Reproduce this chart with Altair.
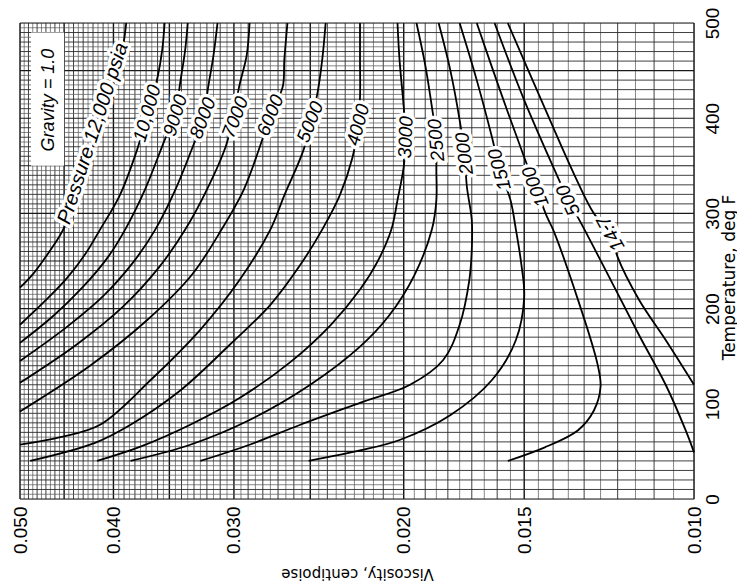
import altair as alt
import numpy as np
import pandas as pd

W, H = 674, 476
FONT = "Liberation Sans"
TFONT = "DejaVu Sans"

# ---------------- curve data: temperature (deg F) and viscosity (cp) ----------------
T_12000 = [500, 482, 461, 424, 377, 330, 283, 267, 252, 236, 222]
V_12000 = [0.0388, 0.0390, 0.0394, 0.0403, 0.0418, 0.0433, 0.0451, 0.0461, 0.0472, 0.0485, 0.0500]
T_10000 = [500, 472, 443, 403, 367, 319, 283, 257, 232, 208, 183]
V_10000 = [0.0354, 0.0356, 0.0360, 0.0369, 0.0378, 0.0394, 0.0413, 0.0428, 0.0447, 0.0471, 0.0500]
T_9000 = [500, 472, 438, 405, 377, 325, 283, 253, 223, 193, 164]
V_9000 = [0.0335, 0.0337, 0.0341, 0.0345, 0.0354, 0.0371, 0.0389, 0.0406, 0.0430, 0.0461, 0.0500]
T_8000 = [500, 466, 433, 398, 370, 325, 283, 248, 213, 180, 145]
V_8000 = [0.0312, 0.0315, 0.0319, 0.0323, 0.0331, 0.0345, 0.0362, 0.0382, 0.0410, 0.0448, 0.0500]
T_7000 = [500, 466, 435, 398, 370, 325, 283, 243, 202, 162, 122]
V_7000 = [0.0289, 0.0291, 0.0296, 0.0301, 0.0306, 0.0320, 0.0337, 0.0359, 0.0391, 0.0437, 0.0500]
T_6000 = [500, 461, 433, 403, 370, 325, 283, 235, 188, 140, 92]
V_6000 = [0.0264, 0.0266, 0.0267, 0.0275, 0.0282, 0.0293, 0.0309, 0.0332, 0.0369, 0.0423, 0.0500]
T_5000 = [500, 461, 424, 396, 367, 319, 283, 230, 178, 125, 78, 65, 57]
V_5000 = [0.0241, 0.0243, 0.0246, 0.0250, 0.0254, 0.0266, 0.0275, 0.0296, 0.0325, 0.0366, 0.0413, 0.0454, 0.0500]
T_4000 = [500, 461, 422, 393, 359, 319, 283, 246, 204, 162, 114, 78, 59, 40]
V_4000 = [0.0222, 0.0222, 0.0222, 0.0223, 0.0226, 0.0233, 0.0243, 0.0256, 0.0275, 0.0303, 0.0341, 0.0384, 0.0418, 0.0488]
T_3000 = [500, 461, 412, 380, 349, 314, 283, 249, 220, 183, 144, 106, 78, 55, 40]
V_3000 = [0.0203, 0.0202, 0.0200, 0.0199, 0.0200, 0.0203, 0.0206, 0.0213, 0.0222, 0.0238, 0.0262, 0.0296, 0.0333, 0.0375, 0.0416]
T_2500 = [500, 456, 412, 377, 346, 314, 283, 235, 193, 160, 120, 83, 57, 40]
V_2500 = [0.0194, 0.0190, 0.0187, 0.0185, 0.0185, 0.0185, 0.0187, 0.0195, 0.0207, 0.0222, 0.0250, 0.0289, 0.0333, 0.0384]
T_2000 = [500, 451, 398, 363, 328, 293, 262, 230, 183, 146, 120, 101, 78, 57, 40]
V_2000 = [0.0184, 0.0179, 0.0175, 0.0173, 0.0172, 0.0170, 0.0170, 0.0171, 0.0175, 0.0182, 0.0197, 0.0222, 0.0256, 0.0289, 0.0325]
T_1500 = [500, 440, 380, 346, 314, 283, 246, 212, 167, 125, 88, 62, 51, 40]
V_1500 = [0.0175, 0.0168, 0.0162, 0.0159, 0.0155, 0.0153, 0.0151, 0.0150, 0.0153, 0.0162, 0.0179, 0.0202, 0.0222, 0.0251]
T_1000 = [500, 430, 359, 328, 296, 283, 220, 143, 118, 93, 72, 54, 40]
V_1000 = [0.0168, 0.0159, 0.0150, 0.0146, 0.0142, 0.0140, 0.0133, 0.0126, 0.0125, 0.0127, 0.0132, 0.0143, 0.0156]
T_500 = [500, 419, 342, 314, 290, 230, 172, 120, 72, 49]
V_500 = [0.0161, 0.0150, 0.0139, 0.0135, 0.0131, 0.0122, 0.0114, 0.0107, 0.0102, 0.0100]
T_14_7 = [500, 419, 340, 300, 279, 254, 209, 167, 120]
V_14_7 = [0.0156, 0.0144, 0.0133, 0.0127, 0.0122, 0.0120, 0.0114, 0.0107, 0.0100]

curves = {
    "12000": (T_12000, V_12000), "10000": (T_10000, V_10000), "9000": (T_9000, V_9000),
    "8000": (T_8000, V_8000), "7000": (T_7000, V_7000), "6000": (T_6000, V_6000),
    "5000": (T_5000, V_5000), "4000": (T_4000, V_4000), "3000": (T_3000, V_3000),
    "2500": (T_2500, V_2500), "2000": (T_2000, V_2000), "1500": (T_1500, V_1500),
    "1000": (T_1000, V_1000), "500": (T_500, V_500), "14.7": (T_14_7, V_14_7),
}

# ---------------- curve labels ----------------
label_text = ["Pressure 12,000 psia", "10,000", "9000", "8000", "7000", "6000", "5000", "4000",
              "3000", "2500", "2000", "1500", "1000", "500", "14.7"]
label_T = [384, 405, 403, 400, 401, 403, 396, 393, 380, 377, 363, 346, 328, 314, 279]
label_v = [0.0420, 0.0369, 0.0345, 0.0323, 0.0299, 0.0275, 0.0250, 0.0223,
           0.0199, 0.0185, 0.0173, 0.0159, 0.0146, 0.0135, 0.0122]
label_angle = [288, 286, 287, 291, 291, 292, 292, 285, 272, 265, 263, 255, 248, 245, 241]
label_size = [20, 19, 19, 19, 19, 19, 19, 19, 19, 19, 19, 19, 19, 19, 19]

# annotation box
note_text = ["Gravity = 1.0"]
note_T = [419]
note_v = [0.0467]
box_v = [0.0487, 0.0450]
box_T = [490, 350]

# axis ticks
visc_ticks = [0.050, 0.040, 0.030, 0.020, 0.015, 0.010]
temp_ticks = [0, 100, 200, 300, 400, 500]

# ---------------- frames ----------------
rows = []
for p, (ts, vs) in curves.items():
    for i, (t, v) in enumerate(zip(ts, vs)):
        rows.append({"p": p, "i": i, "T": t, "v": v})
curve_df = pd.DataFrame(rows)

lab_df = pd.DataFrame({"txt": label_text, "T": label_T, "v": label_v,
                       "ang": label_angle, "fs": label_size})
note_df = pd.DataFrame({"txt": note_text, "T": note_T, "v": note_v, "ang": [270], "fs": [18]})
box_df = pd.DataFrame({"v0": [box_v[0]], "v1": [box_v[1]], "T0": [box_T[0]], "T1": [box_T[1]]})

# grid (graph paper)
kv = np.arange(20, 101)  # viscosity in units of 0.0005 cp
vg = pd.DataFrame({"v": kv * 0.0005, "k": kv})
v_major = vg[vg.k % 10 == 0]
v_mid = vg[(vg.k % 2 == 0) & (vg.k % 10 != 0)]
v_minor = vg[vg.k % 2 == 1]
tg = pd.DataFrame({"T": np.arange(0, 501, 5)})
t_major = tg[tg["T"] % 50 == 0]
t_mid = tg[(tg["T"] % 10 == 0) & (tg["T"] % 50 != 0)]
t_minor = tg[tg["T"] % 10 == 5].assign(v0=0.050, v1=0.020)

xs = alt.Scale(type="log", domain=[0.01, 0.05], reverse=True, nice=False)
ys = alt.Scale(domain=[0, 500], nice=False, zero=False)

xaxis = alt.Axis(values=visc_ticks, format=".3f", labelAngle=270, labelAlign="right",
                 labelBaseline="middle", labelFont=FONT, labelFontSize=19, labelColor="black",
                 labelPadding=7, labelFlush=False, labelOverlap=False, ticks=False, domain=False,
                 grid=False, title="Viscosity, centipoise", titleAngle=180, titleBaseline="bottom",
                 titleFont=TFONT, titleFontSize=15, titleFontWeight="normal", titleColor="black",
                 titlePadding=12)
yaxis = alt.Axis(orient="right", values=temp_ticks, labelAngle=270, labelAlign="center",
                 labelBaseline="top", labelFont=FONT, labelFontSize=19, labelColor="black",
                 labelPadding=9, labelFlush=False, labelOverlap=False, ticks=False, domain=False,
                 grid=False, title="Temperature, deg F", titleAngle=270, titleBaseline="top",
                 titleAlign="center", titleX=27, titleY=H / 2 + 16,
                 titleFont=TFONT, titleFontSize=17, titleFontWeight="normal", titleColor="black")


def X(f):
    return alt.X(f, scale=xs, axis=xaxis)


def Y(f):
    return alt.Y(f, scale=ys, axis=yaxis)


def vrule(df, color, w):
    return alt.Chart(df).mark_rule(color=color, strokeWidth=w).encode(x=X("v:Q"))


def hrule(df, color, w):
    return alt.Chart(df).mark_rule(color=color, strokeWidth=w).encode(y=Y("T:Q"))


g1 = vrule(v_minor, "#555555", 0.7)
g2 = vrule(v_mid, "#2a2a2a", 0.9)
g3 = vrule(v_major, "#111111", 1.4)
g4 = alt.Chart(t_minor).mark_rule(color="#555555", strokeWidth=0.7).encode(
    y=Y("T:Q"), x=X("v0:Q"), x2="v1:Q")
g5 = hrule(t_mid, "#2a2a2a", 0.9)
g6 = hrule(t_major, "#1a1a1a", 1.1)

box = alt.Chart(box_df).mark_rect(color="white").encode(
    x=X("v0:Q"), x2="v1:Q", y=Y("T0:Q"), y2="T1:Q")

lines = alt.Chart(curve_df).mark_line(color="black", strokeWidth=1.8,
                                       interpolate="catmull-rom").encode(
    x=X("v:Q"), y=Y("T:Q"), detail="p:N", order=alt.Order("i:Q"))


def texts(df, halo):
    kw = dict(font=FONT, fontStyle="italic", align="center", baseline="middle")
    if halo:
        m = alt.Chart(df).mark_text(color="white", stroke="white", strokeWidth=7,
                                    strokeJoin="round", **kw)
    else:
        m = alt.Chart(df).mark_text(color="black", **kw)
    return m.encode(x=X("v:Q"), y=Y("T:Q"), text="txt:N",
                    angle=alt.Angle("ang:Q", scale=None),
                    size=alt.Size("fs:Q", scale=None, legend=None))


chart = alt.layer(
    g1, g2, g3, g4, g5, g6, box, lines,
    texts(lab_df, True), texts(lab_df, False), texts(note_df, False)
).properties(
    width=W, height=H, autosize="none",
    padding={"left": 20, "top": 23, "right": 43, "bottom": 89}
).configure_view(stroke="black", strokeWidth=2).configure(background="white")

chart.save("out.html", embed_options={"renderer": "svg", "actions": False})
